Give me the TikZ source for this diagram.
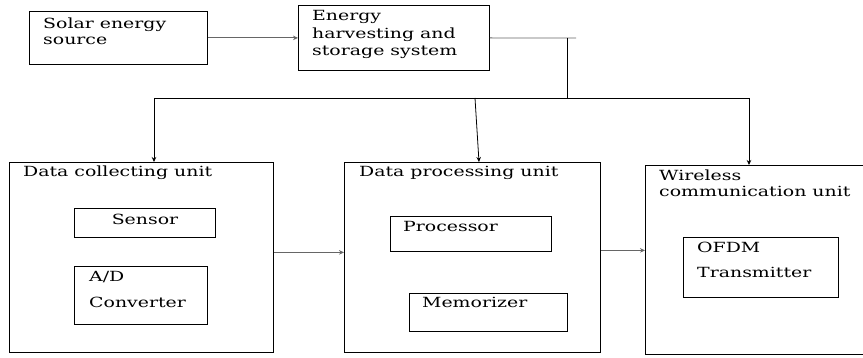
\documentclass[tikz,border=0pt]{standalone}
\usepackage{fontspec}
\setmainfont[FakeStretch=1.35]{DejaVu Serif}
\usetikzlibrary{arrows.meta,calc}
\begin{document}
\begin{tikzpicture}[x=1pt,y=-1pt,
  box/.style={draw, line width=0.8pt, rectangle, inner sep=0pt, anchor=north west},
  openbox/.style={box, draw=none},
  txt/.style={anchor=base west, inner sep=0pt, font=\fontsize{14}{16}\selectfont},
  ctxt/.style={txt, anchor=base},
  conn/.style={line width=0.8pt},
  arr/.style={conn, -{Stealth[length=5pt,width=4.5pt]}},
  garr/.style={arr, draw=black!60, fill=black!60},
  gconn/.style={conn, draw=black!60}]
\fill[white] (0,0) rectangle (863,358);
\useasboundingbox (0,0) rectangle (863,358);
% boxes
\node[box, minimum width=178pt, minimum height=53pt] (solar) at (29,11) {};
\node[box, minimum width=191pt, minimum height=65pt] (energy) at (298,5) {};
\node[box, minimum width=264pt, minimum height=190pt] (dcu) at (9,162) {};
\node[box, minimum width=256pt, minimum height=190pt] (dpu) at (344,162) {};
\node[openbox, minimum width=218pt, minimum height=189pt] (wcu) at (645,165) {};
\draw[conn] (wcu.north east) -- (wcu.north west) -- (wcu.south west) -- (wcu.south east);
\node[box, minimum width=141pt, minimum height=29pt] (sensor) at (74,208) {};
\node[box, minimum width=133pt, minimum height=58pt] (adc) at (74,266) {};
\node[box, minimum width=161pt, minimum height=35pt] (proc) at (390,216) {};
\node[box, minimum width=158pt, minimum height=38pt] (mem) at (409,293) {};
\node[box, minimum width=155pt, minimum height=60pt] (ofdm) at (683,237) {};
% texts
\node[txt] (t1) at (43,28.5) {Solar energy};
\node[txt] (t2) at (43,44.5) {source};
\node[txt] (t3) at (312,21) {Energy};
\node[txt] (t4) at (312,38.5) {harvesting and};
\node[txt] (t5) at (312,56) {storage system};
\node[txt] (t6) at (23,177) {Data collecting unit};
\node[txt] (t7) at (359,177) {Data processing unit};
\node[txt] (t8) at (659,181) {Wireless};
\node[txt] (t9) at (659,197) {communication unit};
\node[ctxt] (t10) at (145,225) {Sensor};
\node[txt] (t11) at (89,282) {A/D};
\node[txt] (t12) at (89,308) {Converter};
\node[txt] (t13) at (403,232) {Processor};
\node[txt] (t14) at (422,308) {Memorizer};
\node[txt] (t15) at (697,253) {OFDM};
\node[txt] (t16) at (697,278) {Transmitter};
% connector points
\coordinate (stub) at (576,38);
\coordinate (j) at (567,38);
\coordinate (jb) at (567,98);
\coordinate (bl) at (154,98);
\coordinate (bm) at (475,98);
\coordinate (br) at (749,98);
% connectors
\draw[garr] (solar.east) -- (energy.west);
\draw[gconn] (energy.east) -- (stub);
\draw[conn] (j) -- (jb);
\draw[conn] (bl) -- (br);
\draw[arr] (bl) -- (bl |- dcu.north);
\draw[arr] (bm) -- ($(dpu.north west)+(135,0)$);
\draw[arr] (br) -- (br |- wcu.north);
\draw[garr] ([yshift=5pt]dcu.east) -- ([yshift=5pt]dcu.east -| dpu.west);
\draw[garr] ([yshift=7pt]dpu.east) -- ([yshift=7pt]dpu.east -| wcu.west);
\end{tikzpicture}
\end{document}
